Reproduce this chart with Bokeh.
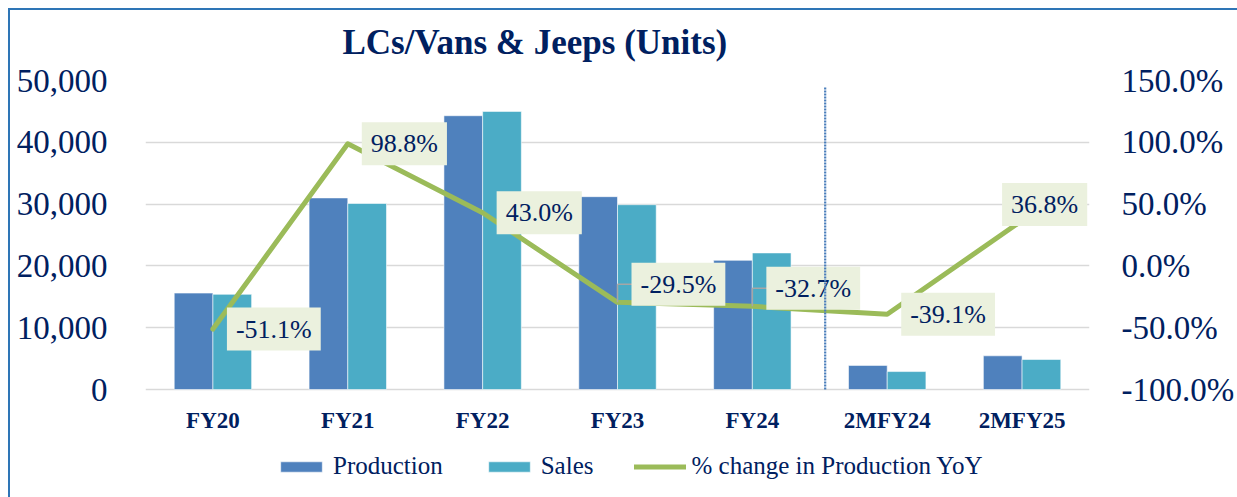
from bokeh.plotting import figure
from bokeh.models import (ColumnDataSource, FactorRange, Range1d, LinearAxis, FixedTicker,
                          NumeralTickFormatter, PrintfTickFormatter, Legend, LegendItem)
from bokeh.transform import dodge
from bokeh.core.properties import value
from bokeh.embed import file_html
from bokeh.resources import INLINE

# ---- data ----
cats = ["FY20", "FY21", "FY22", "FY23", "FY24", "2MFY24", "2MFY25"]
production = [15600, 31000, 44300, 31200, 20900, 3900, 5450]
sales = [15400, 30100, 45000, 29900, 22100, 2900, 4850]
pct_change = [-51.1, 98.8, 43.0, -29.5, -32.7, -39.1, 36.8]
pct_labels = [f"{v:.1f}%" for v in pct_change]
left_ticks = [0, 10000, 20000, 30000, 40000, 50000]
right_ticks = [-100, -50, 0, 50, 100, 150]

# label placement (screen px, dy positive = up)
label_dx = [14, 14, 14, 14, 14, 14, -20]
label_dy = [0, 0, 0, 18, 18, 0, 16]

FONT = "Liberation Serif"
NAVY = "#002060"
PROD_C = "#4F81BD"
SALES_C = "#4BACC6"
LINE_C = "#9BBB59"
BORDER_C = "#2E75B6"

# layout (canvas px)
W, H = 1237, 497
FRAME_LEFT, FRAME_RIGHT_BORDER = 145, 140
PLOT_TOP, ZERO_Y, FRAME_BOTTOM = 80, 389, 487
extra = (FRAME_BOTTOM - ZERO_Y) / (ZERO_Y - PLOT_TOP)   # room below the zero line for axis + legend

src = ColumnDataSource(dict(cat=cats, prod=production, sales=sales, pct=pct_change,
                            lbl=pct_labels, dx=label_dx, dy=[-d for d in label_dy]))

p = figure(x_range=FactorRange(*cats),
           y_range=Range1d(-left_ticks[-1] * extra, left_ticks[-1]),
           width=W, height=H, output_backend="svg", toolbar_location=None,
           min_border_left=FRAME_LEFT, min_border_right=FRAME_RIGHT_BORDER,
           min_border_top=PLOT_TOP, min_border_bottom=H - FRAME_BOTTOM)
span_pct = right_ticks[-1] - right_ticks[0]
p.extra_y_ranges = {"pct": Range1d(right_ticks[0] - span_pct * extra, right_ticks[-1])}
p.border_fill_color = None
p.styles = {"background-color": "white",
            "background-image": f"linear-gradient({BORDER_C}, {BORDER_C}), linear-gradient({BORDER_C}, {BORDER_C})",
            "background-size": "2px 100%, 100% 2px",
            "background-position": "8px 8px, 8px 8px",
            "background-repeat": "no-repeat"}
p.outline_line_color = None
p.background_fill_color = "white"

bw = 0.287
r_prod = p.vbar(x=dodge("cat", -bw / 2, range=p.x_range), top="prod", width=bw, source=src,
                fill_color=PROD_C, line_color="white", line_width=0.8, line_alpha=0.7)
r_sales = p.vbar(x=dodge("cat", bw / 2, range=p.x_range), top="sales", width=bw, source=src,
                 fill_color=SALES_C, line_color="white", line_width=0.8, line_alpha=0.7)
r_line = p.line(x="cat", y="pct", source=src, y_range_name="pct", line_color=LINE_C,
                line_width=5, line_cap="round", line_join="round")

# leader lines for labels lifted above their points
px_per_pct = (ZERO_Y - PLOT_TOP) / span_pct
lead = [(c, v, d) for c, v, d in zip(cats, pct_change, label_dy) if d and c != "2MFY25"]
lsrc = ColumnDataSource(dict(cat=[c for c, v, d in lead],
                             y0=[v for c, v, d in lead],
                             y1=[v + d / px_per_pct for c, v, d in lead]))
p.segment(x0="cat", y0="y0", x1="cat", y1="y1", source=lsrc, y_range_name="pct",
          line_color="#A6A6A6", line_width=1.5)
p.segment(x0="cat", y0="y1", x1=dodge("cat", 0.2, range=p.x_range), y1="y1", source=lsrc,
          y_range_name="pct", line_color="#A6A6A6", line_width=1.5)

p.text(x="cat", y="pct", text="lbl", source=src, y_range_name="pct",
       x_offset="dx", y_offset="dy", text_align="left", text_baseline="middle",
       text_font=value(FONT), text_font_size="26px", text_color=NAVY,
       background_fill_color="#EBF1DE", padding=(9, 7))

# dotted divider between full years and 2M periods
dsrc = ColumnDataSource(dict(cat=["2MFY24"]))
p.segment(x0=dodge("cat", -0.46, range=p.x_range), x1=dodge("cat", -0.46, range=p.x_range),
          y0=0, y1=48900, source=dsrc, line_color="#4A7EBB", line_width=2.2, line_dash="2 1",
          level="overlay")

# axes
p.yaxis.ticker = FixedTicker(ticks=left_ticks)
p.yaxis.formatter = NumeralTickFormatter(format="0,0")
p.yaxis.major_label_standoff = 32
ax_r = LinearAxis(y_range_name="pct", ticker=FixedTicker(ticks=right_ticks),
                  formatter=PrintfTickFormatter(format="%.1f%%"), major_label_standoff=26)
p.add_layout(ax_r, "right")
for ax in [p.yaxis[0], ax_r]:
    ax.axis_line_color = None
    ax.major_tick_line_color = None
    ax.minor_tick_line_color = None
    ax.major_label_text_font = FONT
    ax.major_label_text_font_size = "33px"
    ax.major_label_text_color = NAVY

xa = p.xaxis[0]
xa.fixed_location = 0
xa.axis_line_color = None
xa.major_tick_line_color = None
xa.minor_tick_line_color = None
xa.major_label_text_font = FONT
xa.major_label_text_font_size = "23px"
xa.major_label_text_font_style = "bold"
xa.major_label_text_color = NAVY
xa.major_label_standoff = 12

p.xgrid.grid_line_color = None
p.ygrid.ticker = FixedTicker(ticks=left_ticks)
p.ygrid.grid_line_color = "#D9D9D9"
p.ygrid.grid_line_width = 1.5

# title
p.title.text = "LCs/Vans & Jeeps (Units)"
p.title.text_font = FONT
p.title.text_font_size = "35px"
p.title.text_font_style = "bold"
p.title.text_color = NAVY
p.title.align = "left"
p.title.offset = 197
p.title.standoff = 38

legend = Legend(items=[LegendItem(label="Production", renderers=[r_prod]),
                       LegendItem(label="Sales", renderers=[r_sales]),
                       LegendItem(label="% change in Production YoY", renderers=[r_line])],
                orientation="horizontal", location=(130, 7), glyph_width=52, glyph_height=13,
                label_standoff=6, spacing=40, padding=5, margin=0,
                border_line_color=None, background_fill_alpha=0,
                label_text_font=FONT, label_text_font_size="25px", label_text_color=NAVY)
p.add_layout(legend, "center")

open("out.html", "w").write(file_html(p, INLINE))
